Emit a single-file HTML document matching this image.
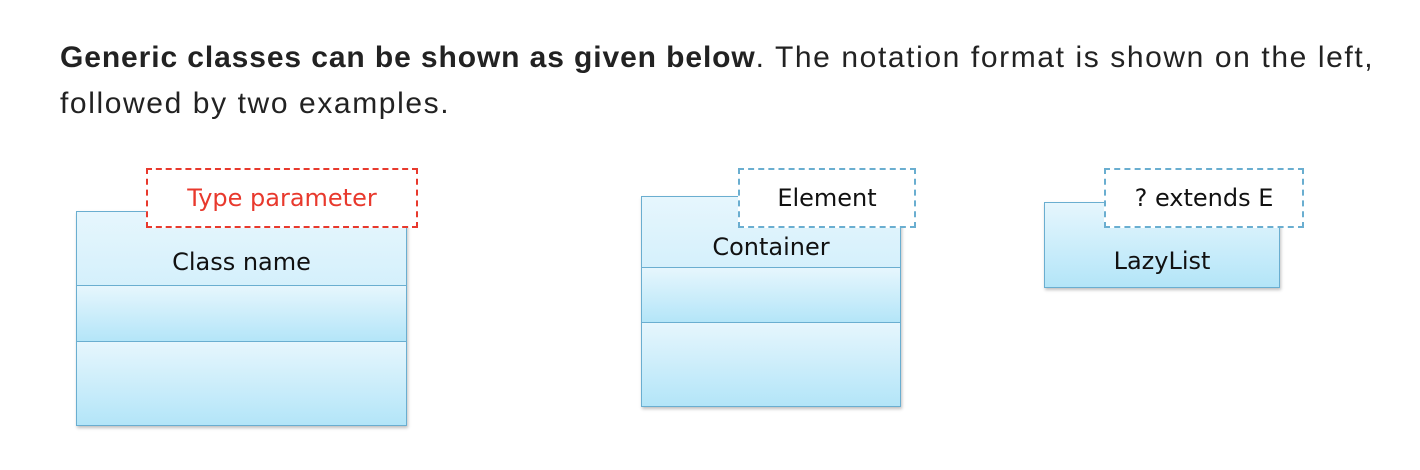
<!DOCTYPE html>
<html><head><style>
body{margin:0;width:1420px;height:470px;background:#fff;position:relative;overflow:hidden;font-family:"Liberation Sans",sans-serif}
p{position:absolute;left:60px;top:35px;margin:0;font-size:30px;letter-spacing:1.6px;line-height:46px;color:#222;width:1350px}
p b{letter-spacing:0.9px}
.cls{position:absolute;border:1.5px solid #6aaed0;box-shadow:1px 2px 3px rgba(0,0,0,.25);box-sizing:border-box}
.sec{position:absolute;left:0;right:0;border-top:1.5px solid #6aaed0;background:linear-gradient(#e6f6fd,#b3e5f8)}
.top{background:linear-gradient(#e6f6fd,#b3e5f8)}
.lbl{position:absolute;background:#fff;box-sizing:border-box;font-family:"DejaVu Sans","Liberation Sans",sans-serif;font-size:24px;text-align:center;display:flex;align-items:center;justify-content:center}
.nm{position:absolute;left:0;right:0;text-align:center;font-family:"DejaVu Sans","Liberation Sans",sans-serif;font-size:24px;color:#111}
</style></head><body>
<p><b>Generic classes can be shown as given below</b>. The notation format is shown on the left, followed by two examples.</p>

<div class="cls top" style="left:76px;top:211px;width:331px;height:215px">
 <div class="nm" style="top:36px">Class name</div>
 <div class="sec" style="top:73px;height:56px"></div>
 <div class="sec" style="top:129px;bottom:0"></div>
</div>
<div class="lbl" style="left:146px;top:168px;width:272px;height:60px;border:2px dashed #e8392d;color:#e8392d">Type parameter</div>

<div class="cls top" style="left:641px;top:196px;width:260px;height:211px">
 <div class="nm" style="top:36px">Container</div>
 <div class="sec" style="top:70px;height:55px"></div>
 <div class="sec" style="top:125px;bottom:0"></div>
</div>
<div class="lbl" style="left:738px;top:168px;width:178px;height:60px;border:2px dashed #6aaed0;color:#111">Element</div>

<div class="cls top" style="left:1044px;top:202px;width:236px;height:86px">
 <div class="nm" style="top:44px">LazyList</div>
</div>
<div class="lbl" style="left:1104px;top:168px;width:200px;height:60px;border:2px dashed #6aaed0;color:#111">? extends E</div>
</body></html>
